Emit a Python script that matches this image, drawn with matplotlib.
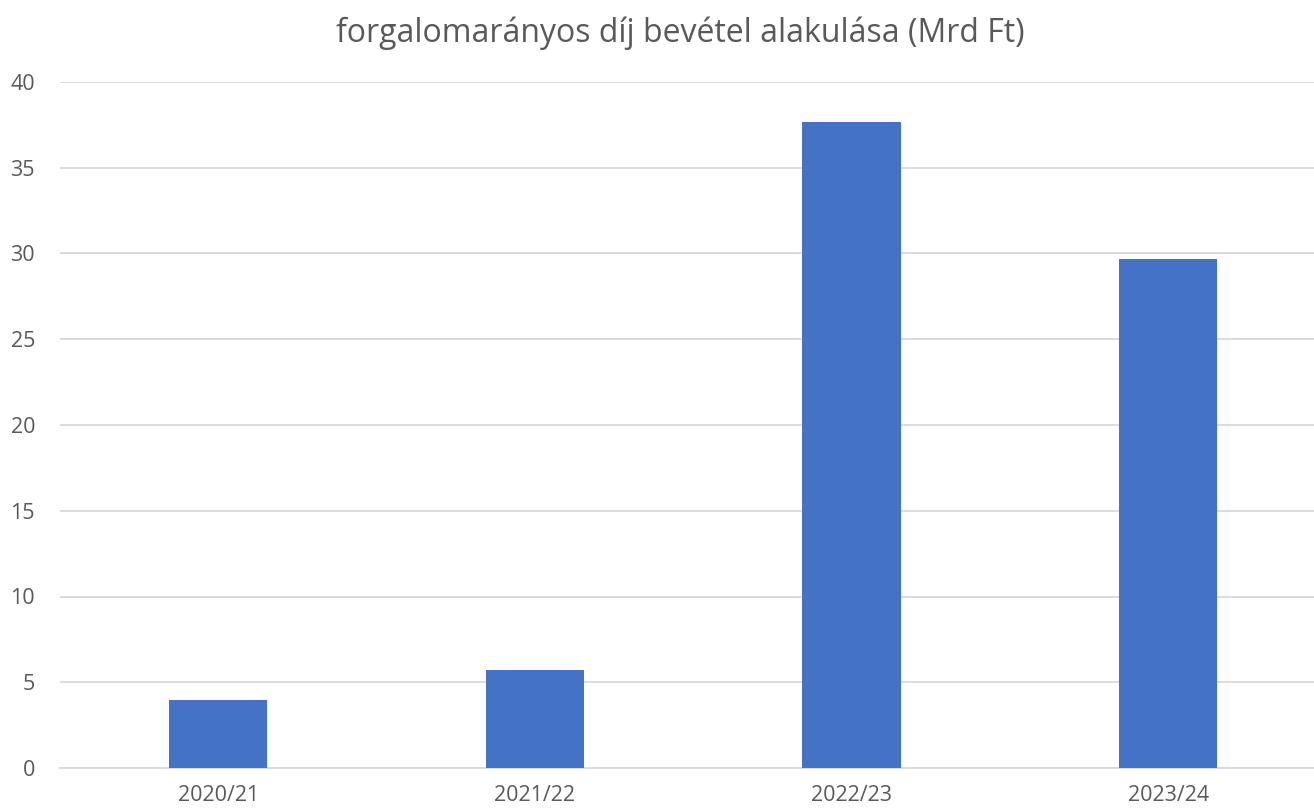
import matplotlib
matplotlib.use("Agg")
import matplotlib.pyplot as plt

categories = ["2020/21", "2021/22", "2022/23", "2023/24"]
values = [3.95, 5.7, 37.65, 29.7]
yticks = [0, 5, 10, 15, 20, 25, 30, 35, 40]
title = "forgalomarányos díj bevétel alakulása (Mrd Ft)"

plt.rcParams['font.family'] = ['Open Sans', 'DejaVu Sans']
text_color = "#595959"

fig = plt.figure(figsize=(13.14, 8.09), dpi=100)
ax = fig.add_axes([60/1314, 41/809, (1326.5-60)/1314, (768-82)/809])
x = range(len(categories))
ax.bar(x, values, width=0.31, color="#4472C4", zorder=3)
ax.set_xlim(-0.5, 3.5)
ax.set_ylim(0, 40)
ax.set_yticks(yticks)
ax.set_xticks(list(x))
ax.set_xticklabels(categories)
ax.grid(axis='y', color="#d9d9d9", linewidth=1.3, zorder=0)
for s in ["top", "right", "left"]:
    ax.spines[s].set_visible(False)
ax.spines["bottom"].set_color("#d9d9d9")
ax.spines["bottom"].set_linewidth(1.3)
ax.tick_params(axis='both', length=0, labelsize=15.5, labelcolor=text_color)
ax.tick_params(axis='y', pad=18)
ax.tick_params(axis='x', pad=12)
for lbl in ax.get_yticklabels():
    lbl.set_horizontalalignment('right')
fig.text(680/1314, 1 - 33/809, title, ha='center', va='center', fontsize=23, color=text_color)
fig.savefig("out.png", dpi=100)
